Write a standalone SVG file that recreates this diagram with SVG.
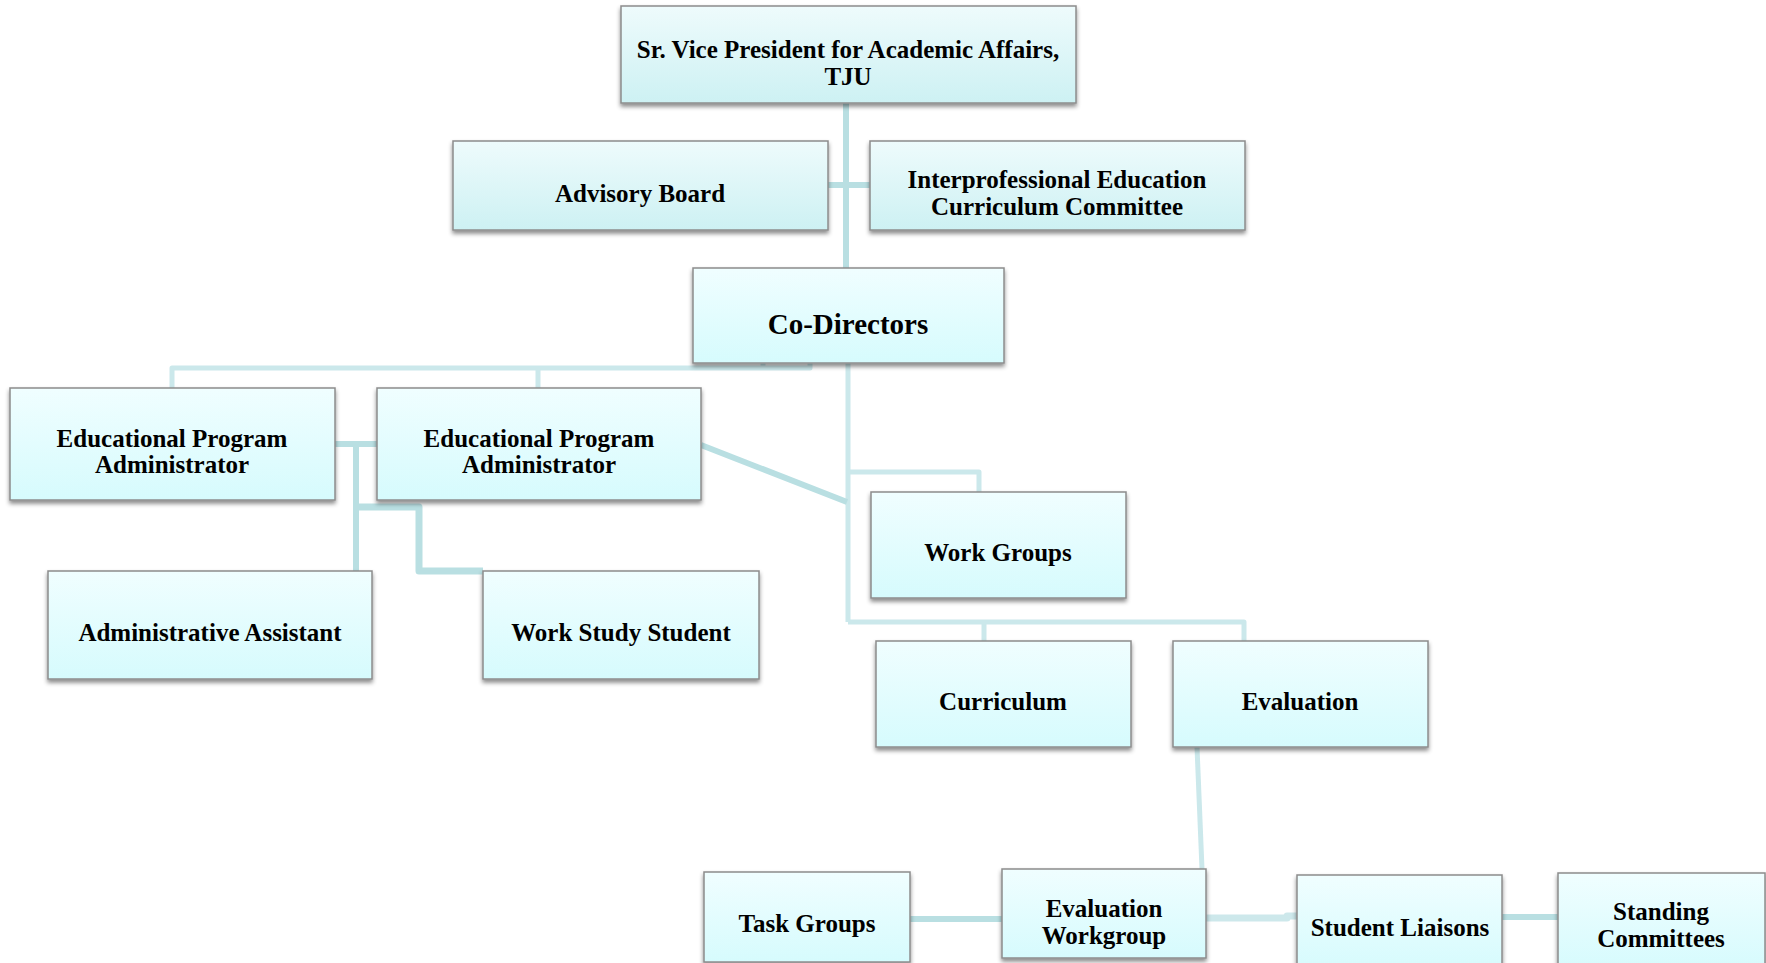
<svg xmlns="http://www.w3.org/2000/svg" width="1766" height="963" viewBox="0 0 1766 963">
<defs>
<linearGradient id="gA" x1="0" y1="0" x2="0" y2="1">
<stop offset="0" stop-color="#eefbfc"/>
<stop offset="1" stop-color="#cdf1f3"/>
</linearGradient>
<linearGradient id="gB" x1="0" y1="0" x2="0" y2="1">
<stop offset="0" stop-color="#f0feff"/>
<stop offset="1" stop-color="#d6fbfd"/>
</linearGradient>
<filter id="sh" x="-5%" y="-10%" width="110%" height="130%">
<feDropShadow dx="0" dy="3" stdDeviation="2" flood-color="#000" flood-opacity="0.45"/>
</filter>
</defs>
<style>
.nodeA{fill:url(#gA);stroke:#8c8c8c;stroke-width:1.5;filter:url(#sh)}
.nodeB{fill:url(#gB);stroke:#8c8c8c;stroke-width:1.5;filter:url(#sh)}
.t{font-family:"Liberation Serif","Times New Roman",serif;font-weight:bold;font-size:25px;fill:#000;text-anchor:middle}
.big{font-size:29px}
.c{fill:none;stroke:#b9dfe2;stroke-width:6;stroke-linejoin:round;stroke-linecap:butt}
.cl{stroke:#cbe8eb;stroke-width:5}
.ct{stroke-width:7}
.cm{stroke:#cde8eb;stroke-width:7}
</style>
<rect width="1766" height="963" fill="#fff"/>
<g id="connectors">
<path class="c" d="M846 103 V268"/>
<path class="c" d="M828 185 H870"/>
<path class="c cl" d="M172 388 V368 H810 V363 M538 368 V388 M763 368 V363"/>
<path class="c cl" d="M848 363 V622"/>
<path class="c" d="M701 445 L847 502"/>
<path class="c cl" d="M848 472 H979 V492"/>
<path class="c cl" d="M848 622 H1244 V641 M984 622 V641"/>
<path class="c cl" d="M1197 747 L1202 869"/>
<path class="c" d="M335 444 H377 M356 444 V571"/>
<path class="c ct" d="M356 507 H419 V571 H483"/>
<path class="c" d="M910 919 H1002"/>
<path class="c cm" d="M1206 918 H1287 V916 H1297"/>
<path class="c" d="M1502 917 H1558"/>
</g>
<g id="svp">
<rect class="nodeA" x="621" y="6" width="455" height="97"/>
<text class="t" x="848" y="58">Sr. Vice President for Academic Affairs,</text>
<text class="t" x="848" y="85">TJU</text>
</g>
<g id="advisory">
<rect class="nodeA" x="453" y="141" width="375" height="89"/>
<text class="t" x="640" y="202">Advisory Board</text>
</g>
<g id="ipe">
<rect class="nodeA" x="870" y="141" width="375" height="89"/>
<text class="t" x="1057" y="188">Interprofessional Education</text>
<text class="t" x="1057" y="215">Curriculum Committee</text>
</g>
<g id="codirectors">
<rect class="nodeB" x="693" y="268" width="311" height="95"/>
<text class="t big" x="848" y="334">Co-Directors</text>
</g>
<g id="epa1">
<rect class="nodeB" x="10" y="388" width="325" height="112"/>
<text class="t" x="172" y="447">Educational Program</text>
<text class="t" x="172" y="473">Administrator</text>
</g>
<g id="epa2">
<rect class="nodeB" x="377" y="388" width="324" height="112"/>
<text class="t" x="539" y="447">Educational Program</text>
<text class="t" x="539" y="473">Administrator</text>
</g>
<g id="adminassistant">
<rect class="nodeB" x="48" y="571" width="324" height="108"/>
<text class="t" x="210" y="641">Administrative Assistant</text>
</g>
<g id="workstudy">
<rect class="nodeB" x="483" y="571" width="276" height="108"/>
<text class="t" x="621" y="641">Work Study Student</text>
</g>
<g id="workgroups">
<rect class="nodeB" x="871" y="492" width="255" height="106"/>
<text class="t" x="998" y="561">Work Groups</text>
</g>
<g id="curriculum">
<rect class="nodeB" x="876" y="641" width="255" height="106"/>
<text class="t" x="1003" y="710">Curriculum</text>
</g>
<g id="evaluation">
<rect class="nodeB" x="1173" y="641" width="255" height="106"/>
<text class="t" x="1300" y="710">Evaluation</text>
</g>
<g id="taskgroups">
<rect class="nodeB" x="704" y="872" width="206" height="90"/>
<text class="t" x="807" y="932">Task Groups</text>
</g>
<g id="evalworkgroup">
<rect class="nodeB" x="1002" y="869" width="204" height="89"/>
<text class="t" x="1104" y="917">Evaluation</text>
<text class="t" x="1104" y="944">Workgroup</text>
</g>
<g id="studentliaisons">
<rect class="nodeB" x="1297" y="875" width="205" height="95"/>
<text class="t" x="1400" y="936">Student Liaisons</text>
</g>
<g id="standingcommittees">
<rect class="nodeB" x="1558" y="873" width="207" height="97"/>
<text class="t" x="1661" y="920">Standing</text>
<text class="t" x="1661" y="947">Committees</text>
</g>
</svg>
